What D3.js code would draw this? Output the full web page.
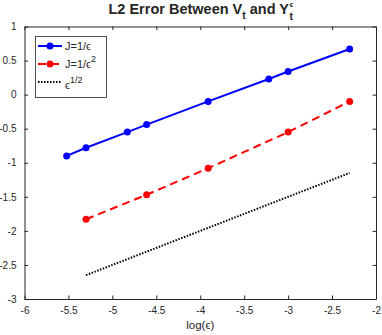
<!DOCTYPE html>
<html>
<head>
<meta charset="utf-8">
<script src="https://cdn.jsdelivr.net/npm/d3@7.9.0/dist/d3.min.js"></script>
<style>
  body { margin: 0; background: #fff; }
  text { font-family: "Liberation Sans", Arial, sans-serif; fill: #262626; }
</style>
</head>
<body>
<div id="chart"></div>
<script>
// data
const blueX = [-5.52, -5.30, -4.83, -4.61, -3.91, -3.22, -3.00, -2.30];
const blueY = [-0.90, -0.78, -0.55, -0.44, -0.10, 0.23, 0.34, 0.67];
const redX = [-5.30, -4.61, -3.91, -3.00, -2.30];
const redY = [-1.83, -1.47, -1.08, -0.55, -0.10];
const refX = [-5.30, -2.30];
const refY = [-2.65, -1.15];
const xTicks = [-6, -5.5, -5, -4.5, -4, -3.5, -3, -2.5, -2];
const yTicks = [-3, -2.5, -2, -1.5, -1, -0.5, 0, 0.5, 1];

const width = 382;
const height = 335;
const plotLeft = 24.5, plotRight = 376, plotTop = 26.5, plotBottom = 299;

const x = d3.scaleLinear().domain([-6, -2]).range([plotLeft, plotRight]);
const y = d3.scaleLinear().domain([-3, 1]).range([plotBottom, plotTop]);

const svg = d3.select("#chart").append("svg")
  .attr("width", width)
  .attr("height", height);

const fmt = (d) => String(d);
const tickLen = 3.5;
const axisColor = "#262626";

// box axes, MATLAB style (ticks inward on all sides)
function styleAxis(g) {
  g.select(".domain").attr("stroke", axisColor);
  g.selectAll(".tick line").attr("stroke", axisColor);
  g.selectAll(".tick text")
    .attr("font-size", 10)
    .attr("fill", axisColor)
    .attr("font-family", "'Liberation Sans', Arial, sans-serif");
}

svg.append("g")
  .attr("transform", `translate(0,${plotBottom})`)
  .call(d3.axisBottom(x).tickValues(xTicks).tickFormat(fmt).tickSizeInner(-tickLen).tickSizeOuter(0).tickPadding(8))
  .call(styleAxis);

svg.append("g")
  .attr("transform", `translate(0,${plotTop})`)
  .call(d3.axisTop(x).tickValues(xTicks).tickFormat("").tickSizeInner(-tickLen).tickSizeOuter(0))
  .call(styleAxis);

svg.append("g")
  .attr("transform", `translate(${plotLeft},0)`)
  .call(d3.axisLeft(y).tickValues(yTicks).tickFormat(fmt).tickSizeInner(-tickLen).tickSizeOuter(0).tickPadding(8))
  .call(styleAxis);

svg.append("g")
  .attr("transform", `translate(${plotRight},0)`)
  .call(d3.axisRight(y).tickValues(yTicks).tickFormat("").tickSizeInner(-tickLen).tickSizeOuter(0))
  .call(styleAxis);

// series
const line = d3.line().x((d) => x(d[0])).y((d) => y(d[1]));

const blue = d3.zip(blueX, blueY);
const red = d3.zip(redX, redY);
const ref = d3.zip(refX, refY);

svg.append("path")
  .attr("d", line(ref))
  .attr("fill", "none")
  .attr("stroke", "#000")
  .attr("stroke-width", 2)
  .attr("stroke-dasharray", "1.5,1.5");

svg.append("path")
  .attr("d", line(red))
  .attr("fill", "none")
  .attr("stroke", "#ff0000")
  .attr("stroke-width", 2)
  .attr("stroke-dasharray", "8,5");

svg.append("g").selectAll("circle")
  .data(red)
  .join("circle")
  .attr("cx", (d) => x(d[0]))
  .attr("cy", (d) => y(d[1]))
  .attr("r", 3.5)
  .attr("fill", "#ff0000");

svg.append("path")
  .attr("d", line(blue))
  .attr("fill", "none")
  .attr("stroke", "#0000ff")
  .attr("stroke-width", 2);

svg.append("g").selectAll("circle")
  .data(blue)
  .join("circle")
  .attr("cx", (d) => x(d[0]))
  .attr("cy", (d) => y(d[1]))
  .attr("r", 3.5)
  .attr("fill", "#0000ff");

// title: main text, then stacked super/subscript after the Y
const title = svg.append("text")
  .attr("y", 13.5)
  .attr("font-size", 14.5)
  .attr("font-weight", "bold");
title.append("tspan").text("L2 Error Between V");
title.append("tspan").attr("dy", 5.5).attr("font-size", 10.5).text("t");
title.append("tspan").attr("dy", -5.5).text(" and Y");
const titleLen = title.node().getComputedTextLength();
const subW = 7;
const titleX = (plotLeft + plotRight) / 2 - (titleLen + subW) / 2 + 2;
title.attr("x", titleX);
svg.append("text")
  .attr("x", titleX + titleLen + 0.5)
  .attr("y", 7)
  .attr("font-size", 8)
  .attr("font-weight", "bold")
  .text("ϵ");
svg.append("text")
  .attr("x", titleX + titleLen + 0.5)
  .attr("y", 19.5)
  .attr("font-size", 10.5)
  .attr("font-weight", "bold")
  .text("t");

// x label
svg.append("text")
  .attr("x", (plotLeft + plotRight) / 2)
  .attr("y", 329)
  .attr("text-anchor", "middle")
  .attr("font-size", 11.5)
  .text("log(ϵ)");

// legend
const legend = svg.append("g");
legend.append("rect")
  .attr("x", 35.5).attr("y", 36.5)
  .attr("width", 71).attr("height", 61)
  .attr("fill", "#fff")
  .attr("stroke", axisColor)
  .attr("stroke-width", 0.8);

const legendItems = [
  { color: "#0000ff", dash: null, marker: true, label: "J=1/ϵ", sup: null, y: 46 },
  { color: "#ff0000", dash: "8,5", marker: true, label: "J=1/ϵ", sup: "2", y: 64 },
  { color: "#000", dash: "1.5,1.5", marker: false, label: "ϵ", sup: "1/2", y: 82 }
];

legendItems.forEach((it) => {
  legend.append("line")
    .attr("x1", 38).attr("x2", 62)
    .attr("y1", it.y).attr("y2", it.y)
    .attr("stroke", it.color)
    .attr("stroke-width", 2)
    .attr("stroke-dasharray", it.dash);
  if (it.marker) {
    legend.append("circle")
      .attr("cx", 50).attr("cy", it.y).attr("r", 3.5)
      .attr("fill", it.color);
  }
  const t = legend.append("text")
    .attr("x", 65)
    .attr("y", it.marker ? it.y + 4 : it.y + 7)
    .attr("font-size", 11);
  t.append("tspan").text(it.label);
  if (it.sup) {
    t.append("tspan").attr("dy", -6).attr("font-size", 9).text(it.sup);
  }
});
</script>
</body>
</html>
